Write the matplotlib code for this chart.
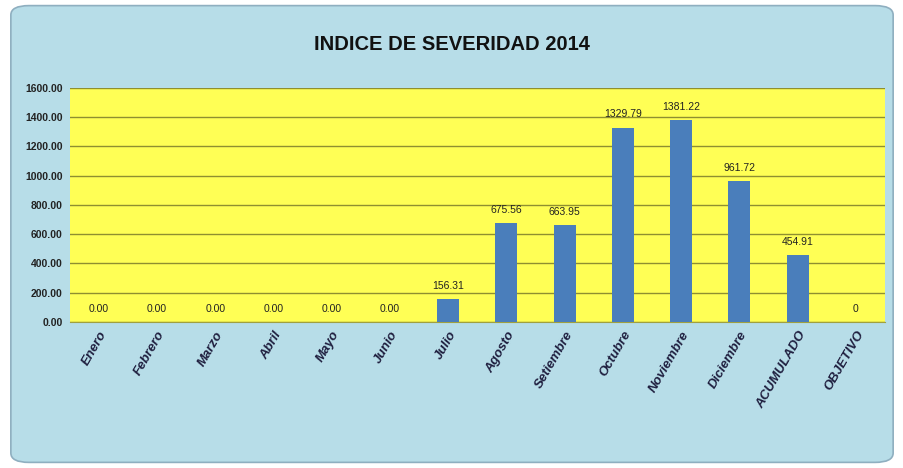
import matplotlib.pyplot as plt
from matplotlib.patches import FancyBboxPatch

categorias = ['Enero', 'Febrero', 'Marzo', 'Abril', 'Mayo', 'Junio', 'Julio',
              'Agosto', 'Setiembre', 'Octubre', 'Noviembre', 'Diciembre',
              'ACUMULADO', 'OBJETIVO']
valores = [0, 0, 0, 0, 0, 0, 156.31, 675.56, 663.95, 1329.79, 1381.22,
           961.72, 454.91, 0]
etiquetas = ['0.00', '0.00', '0.00', '0.00', '0.00', '0.00', '156.31',
             '675.56', '663.95', '1329.79', '1381.22', '961.72', '454.91', '0']
yticks = [0, 200, 400, 600, 800, 1000, 1200, 1400, 1600]

plt.rcParams['font.family'] = ['Liberation Sans', 'DejaVu Sans']

fig = plt.figure(figsize=(9.04, 4.68), dpi=100)
fig.patch.set_facecolor('white')

# fondo celeste con borde redondeado
fondo = FancyBboxPatch((0.012, 0.012), 0.976, 0.976,
                       boxstyle='round,pad=0,rounding_size=0.02',
                       transform=fig.transFigure, facecolor='#B7DDE8',
                       edgecolor='#8FAFC0', linewidth=1.2, zorder=-10)
fig.patches.append(fondo)

ax = fig.add_axes([0.077, 0.312, 0.902, 0.500])
ax.set_facecolor('#FFFF55')

x = range(len(categorias))
barras = ax.bar(x, valores, width=0.38, color='#4A7EBB', zorder=3)

for xi, v, t in zip(x, valores, etiquetas):
    ax.annotate(t, (xi, v), xytext=(0, 6), textcoords='offset points',
                ha='center', va='bottom', fontsize=7.5, color='#222222')

ax.set_ylim(0, 1600)
ax.set_xlim(-0.5, len(categorias) - 0.5)
ax.set_yticks(yticks)
ax.set_yticklabels([f'{v:.2f}' for v in yticks], fontsize=7.5,
                   fontweight='bold', color='#222222')
ax.set_xticks(list(x))
ax.set_xticklabels(categorias, rotation=60, ha='right', rotation_mode='anchor',
                   fontsize=9.5, fontstyle='italic', fontweight='bold',
                   color='#1F1F3F')
ax.tick_params(axis='both', length=0, pad=5)
ax.yaxis.grid(True, color='#8F8F30', linewidth=1.0, zorder=1)
ax.set_axisbelow(True)
for s in ax.spines.values():
    s.set_visible(False)
ax.spines['bottom'].set_visible(True)
ax.spines['bottom'].set_color('#A0A040')

fig.text(0.5, 0.905, 'INDICE DE SEVERIDAD 2014', ha='center', va='center',
         fontsize=14.5, fontweight='bold', color='#111111')

fig.savefig('out.png', dpi=100, facecolor=fig.get_facecolor())
